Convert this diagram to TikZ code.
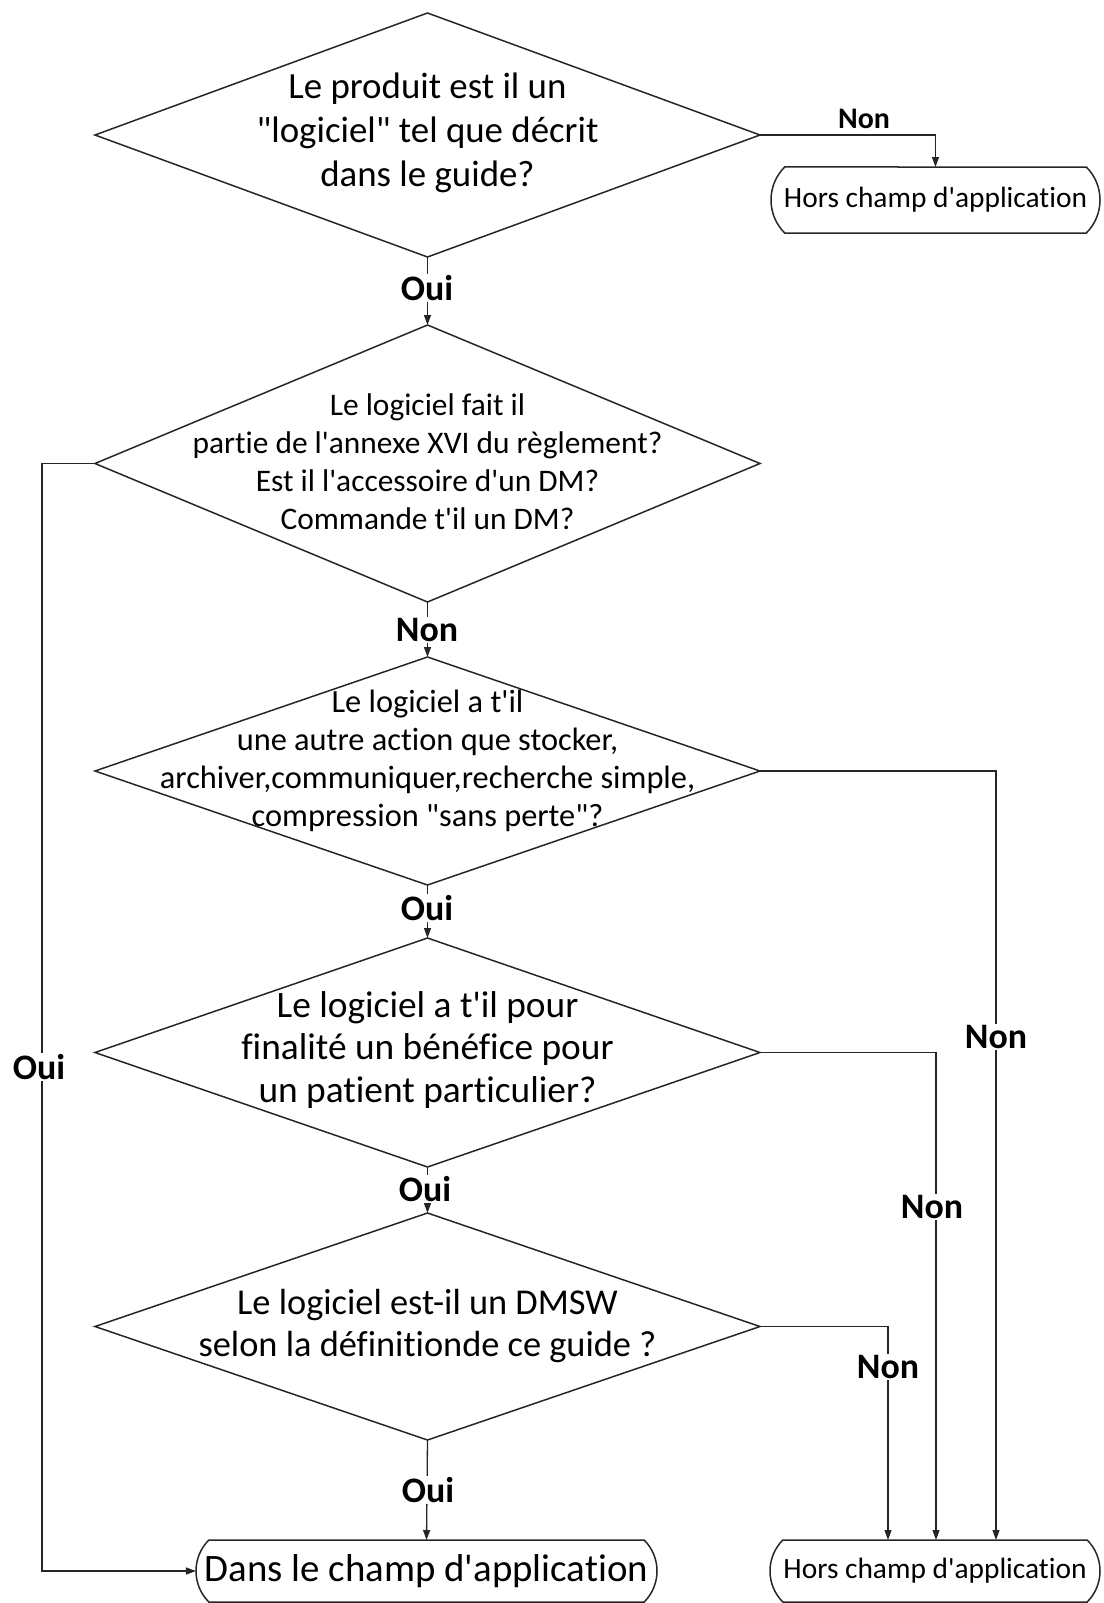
\documentclass[tikz,border=0pt]{standalone}
\usepackage{fontspec}
\setmainfont{Carlito}[Ligatures={TeXOff,NoCommon}]
\usetikzlibrary{shapes.geometric,shapes.misc,arrows.meta}

\begin{document}
\begin{tikzpicture}[x=1bp,y=-1bp,
  decision/.style={draw=black!85, diamond, line width=1.5bp, inner sep=0pt,
    outer sep=0pt, minimum width=665bp},
  qtext/.style={align=center, inner sep=0pt},
  terminal/.style={draw=black!85, rounded rectangle, rounded rectangle arc length=90,
    line width=1.5bp, inner sep=0pt, outer sep=0pt},
  conn/.style={draw=black!85, line width=1.3bp},
  arr/.style={conn, -{Triangle[length=10bp,width=7bp]}},
  lbl/.style={fill=white, inner sep=1.5bp, font=\fontsize{36}{42}\selectfont\bfseries},
]
\useasboundingbox (0,0) rectangle (1103,1603);

% decisions
\node[decision, minimum height=244bp] (d1) at (427.5,135) {};
\node[qtext, font=\fontsize{37}{44}\selectfont] at (427.5,133)
  {Le produit est il un\\"logiciel" tel que décrit\\dans le guide?};

\node[decision, minimum height=277bp] (d2) at (427.5,463.5) {};
\node[qtext, font=\fontsize{31.5}{38}\selectfont] at (427.5,462)
  {Le logiciel fait il\\partie de l'annexe XVI du règlement?\\Est il l'accessoire d'un DM?\\Commande t'il un DM?};

\node[decision, minimum height=228bp] (d3) at (427.5,771) {};
\node[qtext, font=\fontsize{32.5}{38}\selectfont] at (427.5,761)
  {Le logiciel a t'il\\une autre action que stocker,\\archiver,communiquer,recherche simple,\\compression "sans perte"?};

\node[decision, minimum height=229bp] (d4) at (427.5,1052.5) {};
\node[qtext, font=\fontsize{37.5}{43}\selectfont] at (427.5,1050)
  {Le logiciel a t'il pour\\finalité un bénéfice pour\\un patient particulier?};

\node[decision, minimum height=227bp] (d5) at (427.5,1326.5) {};
\node[qtext, font=\fontsize{36.5}{42}\selectfont] at (427.5,1326)
  {Le logiciel est-il un DMSW\\selon la définitionde ce guide ?};

% terminals
\node[terminal, minimum width=329bp, minimum height=66bp,
  font=\fontsize{29.5}{35}\selectfont] (b1) at (935.5,200) {Hors champ d'application};
\node[terminal, minimum width=461bp, minimum height=62bp,
  font=\fontsize{39}{46}\selectfont] (b2) at (426.5,1571) {Dans le champ d'application};
\node[terminal, minimum width=330bp, minimum height=62bp,
  font=\fontsize{29.5}{35}\selectfont] (b3) at (935,1571) {Hors champ d'application};

% connectors
\draw[arr] (d1.east) -| (b1.north);
\draw[arr] (d1.south) -- (d2.north);
\draw[arr] (d2.west) -- ++(-53,0) |- (b2.west);
\draw[arr] (d2.south) -- (d3.north);
\draw[arr] (d3.east) -| ([xshift=61bp]b3.north);
\draw[arr] (d3.south) -- (d4.north);
\draw[arr] (d4.east) -| ([xshift=1bp]b3.north);
\draw[arr] (d4.south) -- (d5.north);
\draw[arr] (d5.east) -| ([xshift=-47bp]b3.north);
\draw[arr] (d5.south) -- (b2.north);

% branch labels
\node[lbl, font=\fontsize{30}{36}\selectfont\bfseries] (l1) at (864,119) {Non};
\node[lbl] (l2) at (427,288) {Oui};
\node[lbl] (l3) at (427,630) {Non};
\node[lbl] (l4) at (427,908) {Oui};
\node[lbl] (l5) at (39,1067) {Oui};
\node[lbl] (l6) at (996,1037) {Non};
\node[lbl] (l7) at (425,1189) {Oui};
\node[lbl] (l8) at (932,1207) {Non};
\node[lbl] (l9) at (888,1367) {Non};
\node[lbl] (l10) at (428,1490) {Oui};
\end{tikzpicture}
\end{document}
